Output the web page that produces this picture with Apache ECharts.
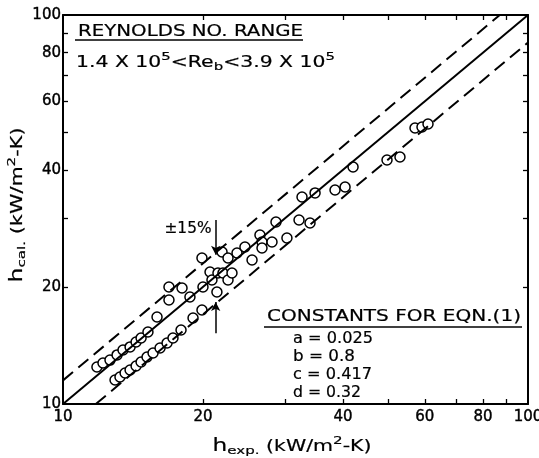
<!DOCTYPE html>
<html><head><meta charset="utf-8">
<script src="https://cdn.jsdelivr.net/npm/echarts@6/dist/echarts.min.js"></script>
<style>html,body{margin:0;padding:0;background:#fff}#c{width:539px;height:458px}</style>
</head><body><div id="c"></div>
<script>
// ---- data ----
const xTickLabels = [10, 20, 40, 60, 80, 100];
const yTickLabels = [10, 20, 40, 60, 80, 100];
const minorTicks = [20, 30, 40, 50, 60, 70, 80, 90];

const hExp = [
  11.83, 12.19, 12.62, 13.07, 13.46, 13.94, 14.36, 14.72, 15.23, 15.93,
  16.90, 16.90, 18.03, 18.75, 19.90, 20.00, 20.71, 20.91, 21.54, 22.08,
  22.64, 23.09, 21.98, 22.64, 23.67, 24.62, 25.50, 26.52, 26.79, 26.79,
  28.15, 28.71, 30.31, 32.18, 33.98, 32.66, 34.84, 38.46, 40.42, 42.05,
  49.75, 53.05, 57.15, 59.16, 60.95,
  12.94, 13.26, 13.60, 13.94, 14.36, 14.72, 15.16, 15.62, 16.17, 16.74,
  17.24, 17.94, 19.04, 19.90, 21.43
];
const hCal = [
  12.45, 12.75, 12.97, 13.37, 13.77, 14.02, 14.43, 14.78, 15.31, 16.74,
  18.51, 19.99, 19.87, 18.84, 23.73, 19.99, 21.85, 20.84, 21.72, 21.72,
  20.84, 21.72, 24.59, 23.73, 24.45, 25.33, 23.45, 27.19, 26.09, 25.18,
  26.09, 29.37, 26.72, 29.72, 29.20, 34.06, 34.88, 35.49, 36.13, 40.68,
  42.40, 43.15, 51.24, 51.54, 52.46,
  11.53, 11.73, 12.01, 12.23, 12.52, 12.82, 13.21, 13.52, 13.93, 14.35,
  14.78, 15.50, 16.64, 17.45, 19.41
];
const perfectLine = [[10, 10], [100, 100]];
const plus15Line = [[10, 11.5], [86.96, 100]];
const minus15Line = [[11.765, 10], [100, 85]];
const arrowX = 21.3;
const arrowUpper = [29.7, 24.2];
const arrowLower = [15.2, 18.3];

// ---- helpers ----
const FF = 'DejaVu Sans';
const cv = document.createElement('canvas').getContext('2d');
function tw(s, size) { cv.font = size + 'px "' + FF + '"'; return cv.measureText(s).width; }
const TB = { fill: '#000', stroke: '#000', lineWidth: 0.2 };
const RICH = {
  m: Object.assign({ fontSize: 15, fontFamily: FF }, TB),
  big: Object.assign({ fontSize: 17, fontFamily: FF }, TB),
  sup: Object.assign({ fontSize: 11, fontFamily: FF, padding: [0, 0, 11, 0] }, TB),
  sub: Object.assign({ fontSize: 11, fontFamily: FF, padding: [8, 0, 0, 0] }, TB)
};
function richText(segs, x, y, target, align, extra) {
  let w = 0, text = '';
  segs.forEach(s => { w += tw(s[1], RICH[s[0]].fontSize); text += '{' + s[0] + '|' + s[1] + '}'; });
  return Object.assign({
    type: 'text', x: x, y: y, scaleX: target / w, silent: true,
    style: { text: text, rich: RICH, align: align, verticalAlign: 'middle', fill: '#000', stroke: '#000', lineWidth: 0.2 }
  }, extra || {});
}
function plainText(s, x, y, target) {
  return richText([['m', s]], x, y, target, 'left');
}
function hline(x1, x2, y) {
  return { type: 'line', silent: true, shape: { x1: x1, y1: y, x2: x2, y2: y }, style: { stroke: '#000', lineWidth: 1.6 } };
}

const axisCommon = {
  type: 'log', logBase: 10, min: 10, max: 100,
  axisLine: { show: true, onZero: false, lineStyle: { color: '#000', width: 2 } },
  splitLine: { show: false },
  minorTick: { show: false },
  axisTick: { show: true, inside: true, length: 5, lineStyle: { color: '#000', width: 1.3 }, customValues: minorTicks }
};
const labelStyle = { fontFamily: FF, fontSize: 15, color: '#000', textBorderColor: '#000', textBorderWidth: 0.4,
  formatter: v => String(Math.round(v)) };

const chart = echarts.init(document.getElementById('c'), null, { renderer: 'canvas' });
chart.setOption({
  animation: false,
  backgroundColor: '#fff',
  grid: { left: 63, right: 11, top: 15, bottom: 54, containLabel: false, outerBoundsMode: 'none' },
  xAxis: [
    Object.assign({}, axisCommon, { position: 'bottom',
      axisLabel: Object.assign({ customValues: xTickLabels, margin: 6 }, labelStyle) }),
    Object.assign({}, axisCommon, { position: 'top', axisLabel: { show: false } })
  ],
  yAxis: [
    Object.assign({}, axisCommon, { position: 'left',
      axisLabel: Object.assign({ customValues: yTickLabels, margin: 2 }, labelStyle) }),
    Object.assign({}, axisCommon, { position: 'right', axisLabel: { show: false } })
  ],
  series: [
    { type: 'line', data: perfectLine, symbol: 'none', silent: true, lineStyle: { color: '#000', width: 2 } },
    { type: 'line', data: plus15Line, symbol: 'none', silent: true, lineStyle: { color: '#000', width: 2, type: [13, 7] } },
    { type: 'line', data: minus15Line, symbol: 'none', silent: true, lineStyle: { color: '#000', width: 2, type: [13, 7] } },
    {
      type: 'scatter', silent: true,
      data: hExp.map((v, i) => [v, hCal[i]]),
      symbol: 'circle', symbolSize: 10,
      itemStyle: { color: '#fff', borderColor: '#000', borderWidth: 1.5, opacity: 1 },
      markLine: {
        silent: true, symbol: ['none', 'arrow'], symbolSize: [7, 9],
        label: { show: false },
        lineStyle: { color: '#000', type: 'solid', width: 1.5 },
        data: [
          [{ coord: [arrowX, arrowUpper[0]] }, { coord: [arrowX, arrowUpper[1]] }],
          [{ coord: [arrowX, arrowLower[0]] }, { coord: [arrowX, arrowLower[1]] }]
        ]
      }
    }
  ],
  graphic: [
    plainText('REYNOLDS NO. RANGE', 78, 32, 225),
    hline(75, 303, 40),
    richText([['m', '1.4 X 10'], ['sup', '5'], ['m', '<Re'], ['sub', 'b'], ['m', '<3.9 X 10'], ['sup', '5']], 76, 63, 259, 'left'),
    plainText('CONSTANTS FOR EQN.(1)', 267, 317, 254),
    hline(264, 522, 327),
    plainText('a = 0.025', 293, 339, 80),
    plainText('b = 0.8', 293, 357, 62),
    plainText('c = 0.417', 293, 375, 79),
    plainText('d = 0.32', 293, 393, 68),
    richText([['m', '±15%']], 188, 229, 47, 'center'),
    richText([['big', 'h'], ['sub', 'exp.'], ['m', ' (kW/m'], ['sup', '2'], ['m', '-K)']], 292, 447, 159, 'center'),
    richText([['big', 'h'], ['sub', 'cal.'], ['m', ' (kW/m'], ['sup', '2'], ['m', '-K)']], 18, 205, 155, 'center', { rotation: Math.PI / 2 })
  ]
});
</script>
</body></html>
